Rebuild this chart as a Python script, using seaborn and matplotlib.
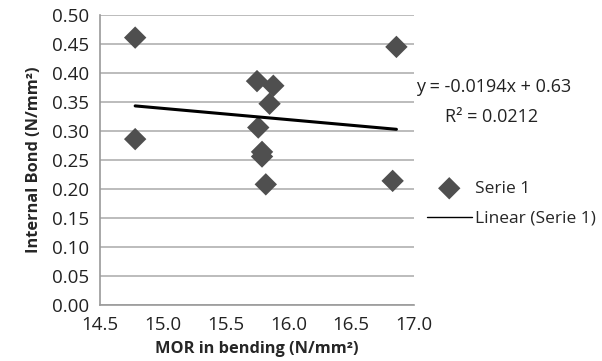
import numpy as np
import pandas as pd
import seaborn as sns
import matplotlib.pyplot as plt

# values
mor = [14.78, 14.78, 15.75, 15.88, 15.85, 15.76, 15.79, 15.79, 15.82, 16.83, 16.86]
ib = [0.461, 0.286, 0.386, 0.378, 0.347, 0.306, 0.264, 0.256, 0.208, 0.214, 0.445]
slope = -0.0194
intercept = 0.63
r2 = 0.0212
x_ticks = [14.5, 15.0, 15.5, 16.0, 16.5, 17.0]
y_ticks = [0.00, 0.05, 0.10, 0.15, 0.20, 0.25, 0.30, 0.35, 0.40, 0.45, 0.50]

df = pd.DataFrame({"mor": mor, "ib": ib})

sns.set_theme(style="white")
plt.rcParams["font.family"] = ["Open Sans", "DejaVu Sans"]

fig = plt.figure(figsize=(6.02, 3.61), dpi=100)
ax = fig.add_axes([100 / 602, 56 / 361, 314 / 602, 290 / 361])

sns.scatterplot(data=df, x="mor", y="ib", marker="D", s=130, color="#4f4f4f",
                edgecolor="none", ax=ax, label="Serie 1", zorder=3)

# linear trendline over the data range
xl = np.array([min(mor), max(mor)])
ax.plot(xl, slope * xl + intercept, color="black", lw=2.2, label="Linear (Serie 1)", zorder=4)

ax.set_xlim(14.5, 17.0)
ax.set_ylim(0, 0.5)
ax.set_xticks(x_ticks)
ax.set_yticks(y_ticks)
ax.set_xticklabels([f"{v:.1f}" for v in x_ticks], fontsize=13.5, color="#222222")
ax.set_yticklabels([f"{v:.2f}" for v in y_ticks], fontsize=13.5, color="#222222")
ax.yaxis.grid(True, color="#b0b0b0", lw=1.2)
ax.xaxis.grid(False)
for side in ["top", "right"]:
    ax.spines[side].set_visible(False)
for side in ["left", "bottom"]:
    ax.spines[side].set_color("#9a9a9a")
    ax.spines[side].set_linewidth(1.2)
ax.tick_params(axis="both", direction="out", length=5, color="#9a9a9a", width=1.2, pad=3)
ax.set_xlabel("MOR in bending (N/mm²)", fontsize=11.8, fontweight="bold", labelpad=5)
ax.set_ylabel("Internal Bond (N/mm²)", fontsize=11.8, fontweight="bold", labelpad=7)

fig.text(494 / 602, 1 - 87 / 361, f"y = {slope}x + {intercept}", fontsize=13,
         ha="center", va="center", color="#222222")
fig.text(492 / 602, 1 - 117 / 361, f"R² = {r2}", fontsize=13,
         ha="center", va="center", color="#222222")

leg = ax.legend(loc="upper left", bbox_to_anchor=(418 / 602, 1 - 172 / 361),
                bbox_transform=fig.transFigure, frameon=False, fontsize=12.5,
                handlelength=2.6, handletextpad=0.2, labelspacing=0.8, borderpad=0)
# legend shows the trendline as a thin stroke
leg.get_lines()[-1].set_linewidth(1.0)

fig.savefig("out.png", dpi=100)
